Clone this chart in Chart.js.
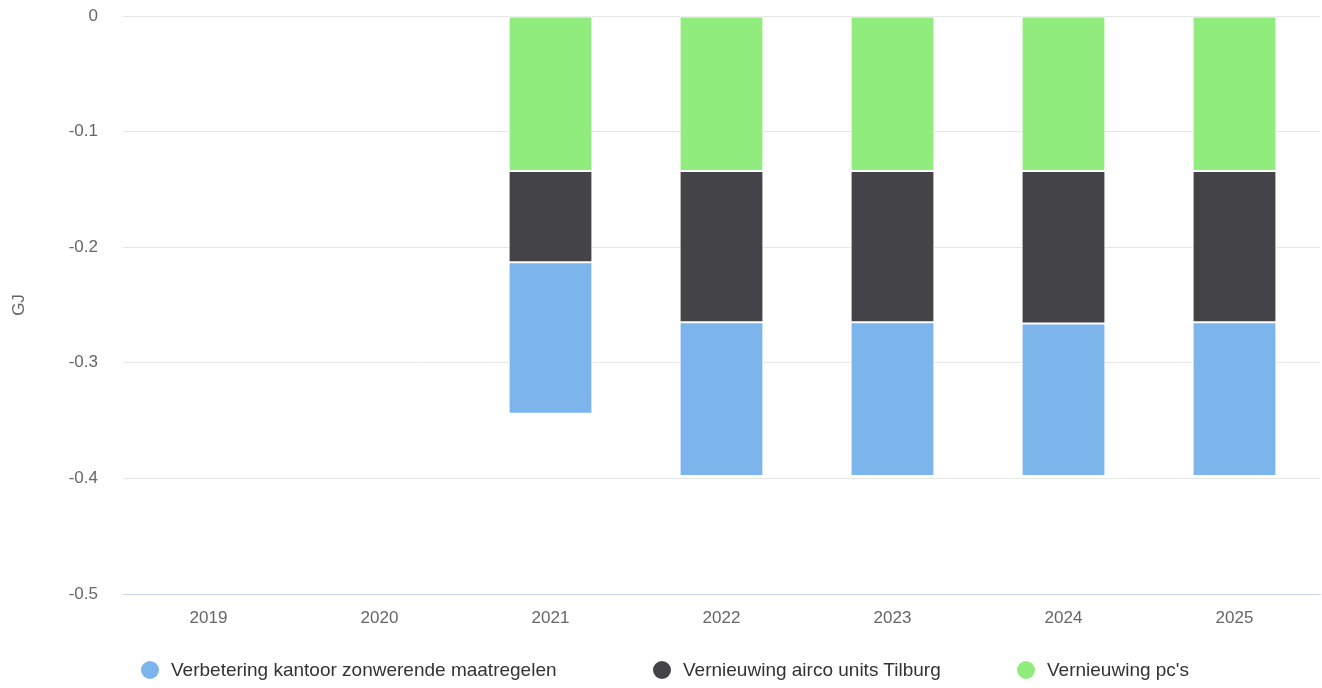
<!DOCTYPE html>
<html>
<head>
<meta charset="utf-8">
<script src="https://cdn.jsdelivr.net/npm/chart.js@4"></script>
<style>
  html, body { margin: 0; padding: 0; background: #fff; }
  #wrap { width: 1322px; height: 688px; position: relative; }
  #legenda { position: absolute; left: 0; top: 659px; width: 1322px; height: 26px;
    font-family: "Liberation Sans", Arial, sans-serif; font-size: 19px; color: #333; }
  #legenda .item { position: absolute; top: 0; display: flex; align-items: center; white-space: nowrap; }
  #legenda .dot { width: 18px; height: 18px; border-radius: 50%; margin-right: 12px; }
</style>
</head>
<body>
<div id="wrap">
  <canvas id="grafico"></canvas>
  <div id="legenda"></div>
</div>
<script>
// ---------- Data ----------
const jaren = ['2019', '2020', '2021', '2022', '2023', '2024', '2025'];
const zonwering = [null, null, -0.131, -0.133, -0.133, -0.132, -0.133];
const airco     = [null, null, -0.079, -0.131, -0.131, -0.132, -0.131];
const pcs       = [null, null, -0.134, -0.134, -0.134, -0.134, -0.134];
const yTicks = [0, -0.1, -0.2, -0.3, -0.4, -0.5];

const FONT = '"Liberation Sans", Arial, sans-serif';

// Chart.js stacks the first dataset closest to zero, so pc's goes first
const datasets = [
  { label: "Vernieuwing pc's", data: pcs, backgroundColor: '#90ed7d' },
  { label: 'Vernieuwing airco units Tilburg', data: airco, backgroundColor: '#434348' },
  { label: 'Verbetering kantoor zonwerende maatregelen', data: zonwering, backgroundColor: '#7cb5ec' },
].map(d => ({ ...d, borderColor: '#ffffff', borderWidth: 1, borderSkipped: false }));

const chart = new Chart(document.getElementById('grafico'), {
  type: 'bar',
  data: { labels: jaren, datasets },
  options: {
    responsive: true,
    maintainAspectRatio: false,
    animation: false,
    categoryPercentage: 1,
    barPercentage: 0.49,
    layout: { padding: { top: 16, right: 2, left: 0, bottom: 0 } },
    scales: {
      x: {
        stacked: true,
        afterFit: (s) => { s.height = 94; },
        grid: { display: false, drawTicks: false },
        border: { display: true, color: '#ccd6eb', width: 1 },
        ticks: { color: '#666666', font: { family: FONT, size: 17 }, padding: 14 },
      },
      y: {
        stacked: true,
        min: -0.5,
        max: 0,
        afterBuildTicks: (s) => { s.ticks = yTicks.map(v => ({ value: v })); },
        afterFit: (s) => { s.width = 123; s.paddingTop = 0; s.paddingBottom = 0; },
        grid: { color: '#e6e6e6', drawTicks: false },
        border: { display: false },
        ticks: {
          color: '#666666',
          font: { family: FONT, size: 17 },
          padding: 25,
          callback: (v) => String(Math.round(v * 10) / 10),
        },
        title: { display: true, text: 'GJ', color: '#666666', font: { family: FONT, size: 17 }, padding: { top: 9, bottom: 0 } },
      },
    },
    plugins: {
      legend: { display: false },
      tooltip: { enabled: false },
    },
  },
});

// ---------- Legenda (HTML, in de originele volgorde) ----------
const legendaX = [141, 653, 1017];
[...chart.data.datasets].reverse().forEach((ds, i) => {
  const item = document.createElement('div');
  item.className = 'item';
  item.style.left = legendaX[i] + 'px';
  item.innerHTML = `<span class="dot" style="background:${ds.backgroundColor}"></span><span>${ds.label}</span>`;
  document.getElementById('legenda').appendChild(item);
});
</script>
</body>
</html>
